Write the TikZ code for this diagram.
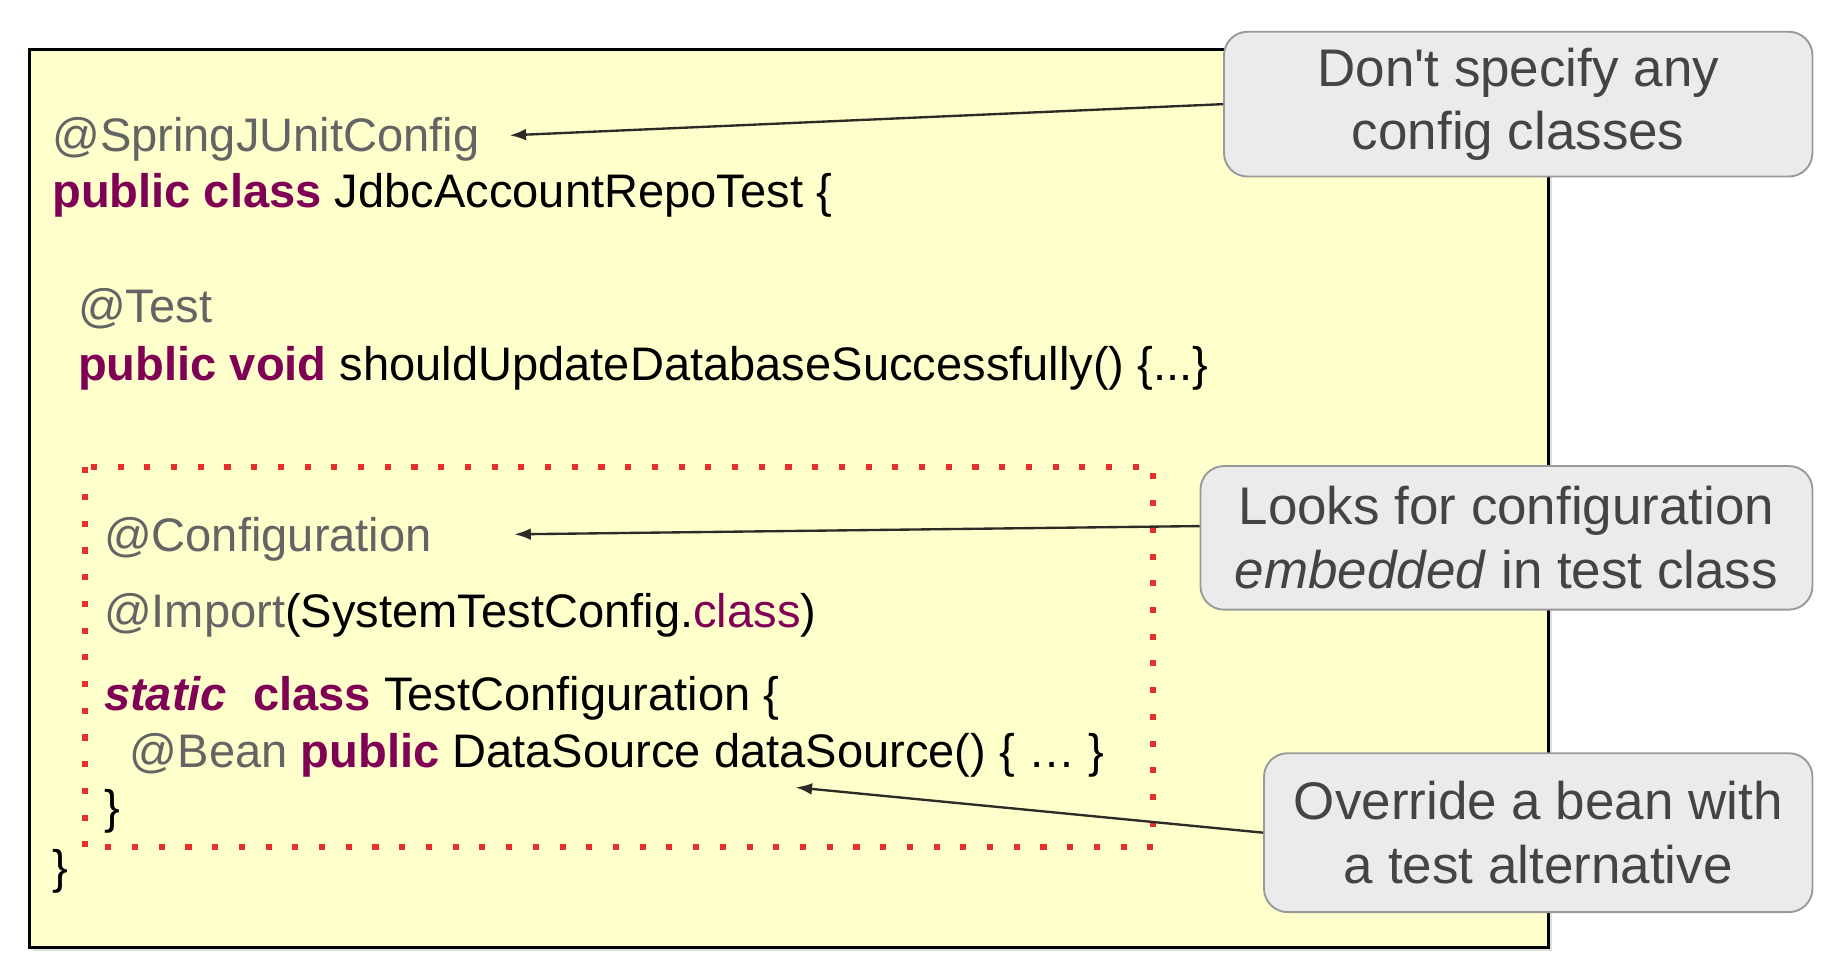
\documentclass[tikz,border=0pt]{standalone}
\usepackage{fontspec}
\setmainfont{Liberation Sans}
\usetikzlibrary{shadows,arrows.meta}
\definecolor{codebg}{HTML}{FFFFCC}
\definecolor{kwcol}{HTML}{7F0055}
\definecolor{anncol}{HTML}{646464}
\definecolor{hintbg}{HTML}{EBEBEB}
\definecolor{hintline}{HTML}{999999}
\definecolor{hinttext}{HTML}{444444}
\definecolor{dotred}{HTML}{E5302C}
\newcommand{\kw}[1]{\textcolor{kwcol}{\textbf{#1}}}
\newcommand{\an}[1]{\textcolor{anncol}{#1}}

\begin{document}
\begin{tikzpicture}[x=0.5pt,y=-0.5pt,
  code/.style={anchor=base west,inner sep=0pt,font=\fontsize{20}{24}\selectfont},
  hint/.style={draw=hintline,line width=0.8pt,fill=hintbg,rounded corners=10pt,
    align=center,text=hinttext,inner sep=0pt,font=\fontsize{22.5}{27}\selectfont},
  pointer/.style={-{Latex[length=7pt,width=5pt]},line width=1pt,black!90!olive}]

  \useasboundingbox (0,0) rectangle (1560,812);
  \fill[white] (0,0) rectangle (1560,812);
  \draw[fill=codebg,line width=1.2pt,
    drop shadow={opacity=0.25,shadow xshift=1.5pt,shadow yshift=-1.5pt}]
    (25,42) rectangle (1316,805);

  \node[code] (springcfg) at (44,129) {\an{@SpringJUnitConfig}};
  \node[code] (classline) at (44,176) {\kw{public class} JdbcAccountRepoTest \{};
  \node[code] (testann) at (66,274) {\an{@Test}};
  \node[code] (testmeth) at (66,323) {\kw{public void} shouldUpdateDatabaseSuccessfully() \{...\}};
  \node[code] (confann) at (88,469) {\an{@Configuration}};
  \node[code] (importann) at (88,533) {\an{@Import}(SystemTestConfig.\textcolor{kwcol}{class})};
  \node[code] (staticcls) at (88,604) {\kw{\itshape static}\ \ \kw{class} TestConfiguration \{};
  \node[code] (beanmeth) at (110,652) {\an{@Bean} \kw{public} DataSource dataSource() \{ … \}};
  \node[code] (innerclose) at (88,700) {\}};
  \node[code] (outerclose) at (44,751) {\}};

  \draw[dotred,line width=2.6pt,dash pattern=on 2.6pt off 8.75pt] (72,397) rectangle (980,720);

  \node[hint,minimum width=250pt,minimum height=61.5pt] (nocfg) at (1290,88.5)
    {Don\textquotesingle t specify any\\config classes};
  \node[hint,minimum width=260pt,minimum height=61pt] (embedded) at (1280,457)
    {Looks for configuration\\\textit{embedded} in test class};
  \node[hint,minimum width=233pt,minimum height=67.5pt] (override) at (1307,707.5)
    {Override a bean with\\a test alternative};

  \coordinate (tipcfg) at (433,115);
  \coordinate (tipemb) at (437,454);
  \coordinate (tipbean) at (676,669);

  \draw[pointer] (nocfg.west) -- (tipcfg);
  \draw[pointer] ([yshift=5pt]embedded.west) -- (tipemb);
  \draw[pointer] (override.west) -- (tipbean);
\end{tikzpicture}
\end{document}
